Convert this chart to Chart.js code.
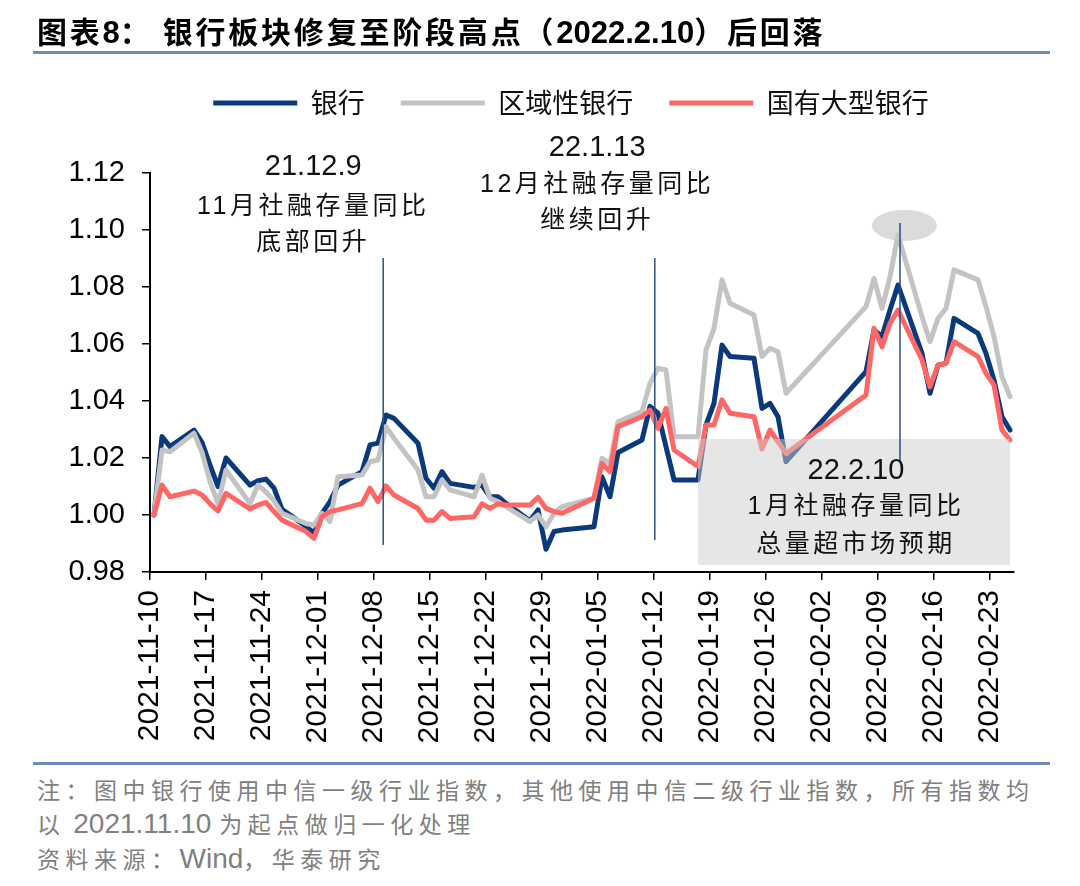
<!DOCTYPE html>
<html lang="zh">
<head>
    <meta charset="UTF-8">
    <title>银行板块修复至阶段高点后回落</title>
    <style>
        body {
            margin: 0;
            width: 1080px;
            height: 886px;
            position: relative;
            background: #fff;
            font-family: "Noto Sans CJK SC", sans-serif;
            overflow: hidden;
        }
        #title {
            position: absolute;
            left: 37px;
            top: 10px;
            line-height: 40px;
            font-size: 30px;
            font-weight: bold;
            color: #000;
            white-space: nowrap;
            z-index: 2;
        }
        #title .cj { letter-spacing: 2.8px; }
        #title .la { font-family: "Liberation Sans", Arial, sans-serif; font-size: 31px; }
        .rule {
            position: absolute;
            left: 33px;
            width: 1017px;
            height: 3px;
            background: #6b8db7;
        }
        #wrap {
            position: absolute;
            left: 0;
            top: 0;
            width: 1080px;
            height: 760px;
        }
        .note {
            position: absolute;
            left: 37px;
            font-size: 23px;
            letter-spacing: 5.5px;
            color: #808080;
            line-height: 34px;
            white-space: nowrap;
        }
        .note .lat {
            font-family: "Liberation Sans", Arial, sans-serif;
            font-size: 28px;
            letter-spacing: 0;
        }
    </style>
    <script src="https://cdn.jsdelivr.net/npm/chart.js@4"></script>
</head>
<body>
    <div id="title"><span class="cj">图表</span><span class="la">8</span><span class="cj">：</span><span class="cj" style="margin-left:10px">银行板块修复至阶段高点（</span><span class="la">2022.2.10</span><span class="cj">）后回落</span></div>
    <div class="rule" style="top:51px"></div>

    <div id="wrap"><canvas id="chart"></canvas></div>

    <div class="rule" style="top:762px"></div>
    <div class="note" style="top:772px">注：图中银行使用中信一级行业指数，其他使用中信二级行业指数，所有指数均</div>
    <div class="note" style="top:806px">以<span class="lat"> 2021.11.10 </span>为起点做归一化处理</div>
    <div class="note" style="top:841px">资料来源：<span class="lat">Wind</span>，华泰研究</div>

    <script>
        // trading days (lines join across weekends / Spring Festival)
        const dates = [
            '2021-11-10', '2021-11-11', '2021-11-12', '2021-11-15', '2021-11-16', '2021-11-17', '2021-11-18', '2021-11-19',
            '2021-11-22', '2021-11-23', '2021-11-24', '2021-11-25', '2021-11-26', '2021-11-29', '2021-11-30',
            '2021-12-01', '2021-12-02', '2021-12-03', '2021-12-06', '2021-12-07', '2021-12-08', '2021-12-09', '2021-12-10',
            '2021-12-13', '2021-12-14', '2021-12-15', '2021-12-16', '2021-12-17', '2021-12-20', '2021-12-21', '2021-12-22',
            '2021-12-23', '2021-12-24', '2021-12-27', '2021-12-28', '2021-12-29', '2021-12-30', '2021-12-31',
            '2022-01-04', '2022-01-05', '2022-01-06', '2022-01-07', '2022-01-10', '2022-01-11', '2022-01-12', '2022-01-13',
            '2022-01-14', '2022-01-17', '2022-01-18', '2022-01-19', '2022-01-20', '2022-01-21', '2022-01-24', '2022-01-25',
            '2022-01-26', '2022-01-27', '2022-01-28',
            '2022-02-07', '2022-02-08', '2022-02-09', '2022-02-10', '2022-02-11', '2022-02-14', '2022-02-15', '2022-02-16',
            '2022-02-17', '2022-02-18', '2022-02-21', '2022-02-22', '2022-02-23', '2022-02-24', '2022-02-25'
        ];

        const bank = [
            1.000, 1.0275, 1.024, 1.0298, 1.0255, 1.0175, 1.010, 1.020, 1.0105, 1.012, 1.0126, 1.0094, 1.002, 0.996, 0.9936,
            1.0006, 1.0047, 1.0105, 1.0152, 1.0246, 1.0252, 1.0351, 1.0339, 1.0252, 1.0129, 1.0094, 1.0152, 1.0111,
            1.0097, 1.0105, 1.0064, 1.0064, 1.0041, 0.998, 1.0018, 0.988, 0.9942, 0.9947,
            0.9959, 1.0134, 1.0064, 1.0219, 1.0263, 1.0381, 1.0357, 1.024, 1.0123, 1.0123, 1.0316, 1.0392, 1.0596,
            1.0556, 1.055, 1.0374, 1.0392, 1.0345, 1.0187,
            1.0503, 1.0649, 1.0626, 1.0719, 1.0807, 1.0567, 1.0427, 1.0526, 1.0532, 1.069, 1.0637, 1.0567, 1.0474,
            1.0345, 1.0298
        ];

        const regional = [
            1.000, 1.0228, 1.0222, 1.0287, 1.022, 1.0117, 1.004, 1.0158, 1.004, 1.0105, 1.008, 1.005, 1.0006, 0.997, 0.9965,
            1.0006, 0.9977, 1.0134, 1.014, 1.0187, 1.0193, 1.031, 1.0269, 1.0158, 1.0064, 1.0064, 1.0123, 1.0088,
            1.0064, 1.014, 1.0059, 1.0047, 1.0029, 0.9977, 1.000, 0.9959, 1.0006, 1.0029,
            1.0059, 1.0199, 1.0181, 1.0327, 1.0363, 1.0462, 1.0515, 1.0509, 1.0275, 1.0275, 1.0579, 1.0655, 1.0825,
            1.0743, 1.0702, 1.0556, 1.0585, 1.0573, 1.0427,
            1.0731, 1.083, 1.0725, 1.0836, 1.0982, 1.0696, 1.0608, 1.069, 1.0725, 1.086, 1.0825, 1.0731, 1.0626,
            1.0485, 1.0415
        ];

        const bigState = [
            1.000, 1.0105, 1.0064, 1.0084, 1.007, 1.004, 1.0014, 1.0076, 1.0021, 1.0035, 1.0044, 1.0012, 0.9982, 0.9942, 0.9918,
            0.9994, 1.0012, 1.0018, 1.004, 1.0094, 1.0047, 1.0102, 1.007, 1.0023, 0.9982, 0.9982, 1.0012, 0.9988,
            0.9994, 1.0039, 1.0023, 1.0039, 1.0035, 1.0035, 1.0062, 1.0023, 1.0012, 1.0006,
            1.0059, 1.0181, 1.0152, 1.031, 1.0345, 1.0368, 1.0304, 1.0374, 1.0228, 1.017, 1.0316, 1.0316, 1.0404,
            1.0357, 1.0345, 1.0231, 1.0298, 1.0257, 1.0216,
            1.0421, 1.0655, 1.059, 1.0673, 1.0719, 1.0544, 1.045, 1.0526, 1.0532, 1.0608, 1.0556, 1.0497, 1.0456,
            1.0298, 1.0263
        ];

        const seriesNames = ['银行', '区域性银行', '国有大型银行'];
        const seriesColors = ['#0a3a7c', '#c3c3c3', '#ff6666'];

        const tickDates = [
            '2021-11-10', '2021-11-17', '2021-11-24', '2021-12-01', '2021-12-08', '2021-12-15', '2021-12-22', '2021-12-29',
            '2022-01-05', '2022-01-12', '2022-01-19', '2022-01-26', '2022-02-02', '2022-02-09', '2022-02-16', '2022-02-23'
        ];
        const yTicks = [0.98, 1.00, 1.02, 1.04, 1.06, 1.08, 1.10, 1.12];

        // day offset from the first date; points sit in the middle of their day slot
        const DAY0 = Date.UTC(2021, 10, 10);
        function dayIndex(s) {
            const [y, m, d] = s.split('-').map(Number);
            return (Date.UTC(y, m - 1, d) - DAY0) / 86400000;
        }
        const xs = dates.map(d => dayIndex(d) + 0.5);
        const tickLabel = {};
        tickDates.forEach(d => { tickLabel[dayIndex(d)] = d; });

        // annotations (x in days, y in index value)
        const shadeBox = { x0: 68.5, x1: 107.5, y0: 1.0267, y1: 0.9825 };
        const peakMark = { x: 94.3, y: 1.1016, rx: 32.5, ry: 15.5 };
        const eventLines = [
            { x: 29.15, top: 1.0902, bottom: 0.9895 },
            { x: 63.1, top: 1.0902, bottom: 0.9912 },
            { x: 93.75, top: 1.1025, bottom: 1.0186 }
        ];
        const eventNotes = [
            { x: 20.4, lines: [['21.12.9', 1.1221], ['11月社融存量同比', 1.1081], ['底部回升', 1.0954]] },
            { x: 55.9, lines: [['22.1.13', 1.1288], ['12月社融存量同比', 1.1158], ['继续回升', 1.1032]] },
            { x: 88.25, lines: [['22.2.10', 1.0154], ['1月社融存量同比', 1.0028], ['总量超市场预期', 0.9895]] }
        ];

        const LEGEND_GAP = 46.5;    // extra space under the legend
        const LEGEND_SHIFT = 64;    // legend sits right of the canvas centre

        const notesPlugin = {
            id: 'notes',
            beforeLayout(chart) {
                const lg = chart.legend;
                if (lg && !lg._gap) {
                    const fit = lg.fit;
                    lg.fit = function () { fit.call(this); this.height += LEGEND_GAP; };
                    lg._gap = true;
                }
            },
            afterLayout(chart) {
                chart.legend.left += LEGEND_SHIFT;
                chart.legend.right += LEGEND_SHIFT;
            },
            afterDatasetsDraw(chart) {
                const { ctx, scales: { x, y } } = chart;
                ctx.save();
                ctx.fillStyle = 'rgba(205,205,205,0.5)';
                ctx.fillRect(x.getPixelForValue(shadeBox.x0), y.getPixelForValue(shadeBox.y0),
                    x.getPixelForValue(shadeBox.x1) - x.getPixelForValue(shadeBox.x0),
                    y.getPixelForValue(shadeBox.y1) - y.getPixelForValue(shadeBox.y0));

                ctx.fillStyle = 'rgba(200,200,200,0.65)';
                ctx.beginPath();
                ctx.ellipse(x.getPixelForValue(peakMark.x), y.getPixelForValue(peakMark.y), peakMark.rx, peakMark.ry, 0, 0, Math.PI * 2);
                ctx.fill();

                ctx.strokeStyle = '#2b4f80';
                ctx.lineWidth = 1.5;
                eventLines.forEach(l => {
                    const px = x.getPixelForValue(l.x);
                    ctx.beginPath();
                    ctx.moveTo(px, y.getPixelForValue(l.top));
                    ctx.lineTo(px, y.getPixelForValue(l.bottom));
                    ctx.stroke();
                });

                ctx.fillStyle = '#111';
                ctx.textAlign = 'center';
                ctx.textBaseline = 'middle';
                eventNotes.forEach(n => {
                    const px = x.getPixelForValue(n.x);
                    n.lines.forEach(([txt, v], i) => {
                        if (i === 0) {
                            ctx.font = '29px "Liberation Sans", Arial, sans-serif';
                            ctx.letterSpacing = '0px';
                        } else {
                            ctx.font = '25px "Liberation Sans", "Noto Sans CJK SC", sans-serif';
                            ctx.letterSpacing = '3.5px';
                        }
                        ctx.fillText(txt, px, y.getPixelForValue(v));
                    });
                });
                ctx.restore();
            }
        };

        const series = [bank, regional, bigState];
        const ctx = document.getElementById('chart').getContext('2d');
        new Chart(ctx, {
            type: 'line',
            data: {
                datasets: series.map((vals, i) => ({
                    label: seriesNames[i],
                    data: vals.map((v, j) => ({ x: xs[j], y: v })),
                    borderColor: seriesColors[i],
                    backgroundColor: seriesColors[i],
                    borderWidth: 5,
                    borderJoinStyle: 'round',
                    borderCapStyle: 'round',
                    pointRadius: 0,
                    tension: 0,
                    order: 3 - i
                }))
            },
            options: {
                responsive: true,
                maintainAspectRatio: false,
                animation: false,
                layout: { padding: { left: 0, right: 66, top: 53.5, bottom: 0 } },
                plugins: {
                    legend: {
                        display: true,
                        position: 'top',
                        labels: {
                            usePointStyle: true,
                            pointStyle: 'line',
                            pointStyleWidth: 84,
                            padding: 36,
                            color: '#111',
                            font: { family: '"Noto Sans CJK SC", sans-serif', size: 27 },
                            sort: (a, b) => a.datasetIndex - b.datasetIndex
                        }
                    },
                    tooltip: { enabled: false }
                },
                scales: {
                    x: {
                        type: 'linear',
                        min: 0,
                        max: 108,
                        afterBuildTicks(scale) {
                            scale.ticks = tickDates.map(d => ({ value: dayIndex(d) }));
                        },
                        afterFit(scale) { scale.height = 188; },
                        ticks: {
                            autoSkip: false,
                            minRotation: 90,
                            maxRotation: 90,
                            padding: 10,
                            color: '#000',
                            font: { family: '"Liberation Sans", Arial, sans-serif', size: 30 },
                            callback: v => tickLabel[v] || ''
                        },
                        grid: { drawOnChartArea: false, tickLength: 8, color: '#000', lineWidth: 1.5 },
                        border: { color: '#000', width: 2 }
                    },
                    y: {
                        min: 0.98,
                        max: 1.12,
                        afterBuildTicks(scale) {
                            scale.ticks = yTicks.map(v => ({ value: v }));
                        },
                        afterFit(scale) { scale.width = 150; },
                        ticks: {
                            padding: 17,
                            color: '#000',
                            font: { family: '"Liberation Sans", Arial, sans-serif', size: 29 },
                            callback: v => v.toFixed(2)
                        },
                        grid: { drawOnChartArea: false, tickLength: 8, color: '#000', lineWidth: 1.5 },
                        border: { color: '#000', width: 2 }
                    }
                }
            },
            plugins: [notesPlugin]
        });
    </script>
</body>
</html>
